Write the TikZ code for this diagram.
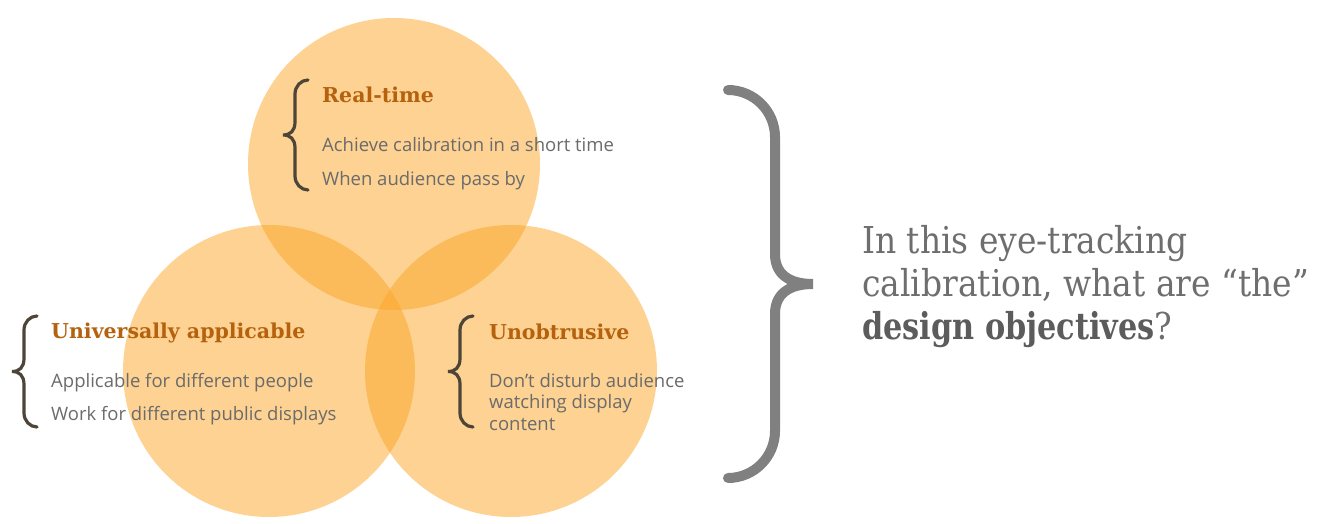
\documentclass[tikz,border=0pt]{standalone}
\usepackage{fontspec}
\setmainfont{Open Sans}
\newfontfamily\slab{DejaVu Serif}
\newfontfamily\slabq[FakeStretch=0.89]{DejaVu Serif}
\newfontfamily\slabqb[FakeStretch=0.82]{DejaVu Serif}
\definecolor{petal}{HTML}{FBA525}
\definecolor{headc}{HTML}{B5620F}
\definecolor{bodyc}{HTML}{6B6B6B}
\definecolor{curlc}{HTML}{4C4538}
\definecolor{bigcurl}{HTML}{808080}
\definecolor{askc}{HTML}{6E6E6E}
\definecolor{askbold}{HTML}{5C5C5C}

% curly brace: #1 style, #2 x of the ends, #3 x of the stem, #4 x of the tip,
% #5 top y, #6 bottom y, #7 length of the end curls, #8 length of the tip curls
\newcommand{\drawcurl}[8]{%
  \pgfmathsetmacro\curlmid{(#5+#6)/2}%
  \draw[#1] (#2,#5) .. controls ({#2+0.55*(#3-#2)},#5) and (#3,{#5+0.45*#7}) .. (#3,{#5+#7})
    -- (#3,{\curlmid-#8}) .. controls (#3,{\curlmid-0.3*#8}) and ({#3+0.4*(#4-#3)},\curlmid) .. (#4,\curlmid)
    .. controls ({#3+0.4*(#4-#3)},\curlmid) and (#3,{\curlmid+0.3*#8}) .. (#3,{\curlmid+#8})
    -- (#3,{#6-#7}) .. controls (#3,{#6-0.45*#7}) and ({#2+0.55*(#3-#2)},#6) .. (#2,#6);}

\tikzset{
  venn/.style={circle, minimum size=292pt, inner sep=0pt, fill=petal, fill opacity=0.5},
  head/.style={anchor=base west, inner sep=0pt, text=headc, font=\slab\bfseries\fontsize{20.5}{24}\selectfont},
  body/.style={anchor=base west, inner sep=0pt, text=bodyc, align=left, font=\fontsize{18.5}{21.5}\selectfont},
  smallcurl/.style={draw=curlc, line width=3.2pt, line cap=round},
  bigcurlstyle/.style={draw=bigcurl, line width=10pt, line cap=round},
  ask/.style={anchor=base west, inner sep=0pt, text=askc, align=left, font=\slabq\fontsize{37}{43}\selectfont}
}

\begin{document}
\begin{tikzpicture}[x=1pt, y=-1pt]
  \useasboundingbox (0,0) rectangle (1317,524);

  % the three overlapping circles
  \node[venn] (ctop)   at (394,164) {};
  \node[venn] (cleft)  at (269,371) {};
  \node[venn] (cright) at (511,371) {};

  % real-time
  \drawcurl{smallcurl}{308}{295}{283}{80}{190}{14}{13}
  \node[head] (rt) at (322,103) {Real-time};
  \node[body] (rt1) at (322,152) {Achieve calibration in a short time};
  \node[body] (rt2) at (322,185) {When audience pass by};

  % universally applicable
  \drawcurl{smallcurl}{37}{24}{12}{316}{427}{14}{13}
  \node[head] (ua) at (51,338) {Universally applicable};
  \node[body] (ua1) at (51,387) {Applicable for different people};
  \node[body] (ua2) at (51,420) {Work for different public displays};

  % unobtrusive (the last line of a wrapped node carries its base anchor)
  \drawcurl{smallcurl}{473}{460}{448}{316}{427}{14}{13}
  \node[head] (un) at (489,339) {Unobtrusive};
  \node[body] (un1) at (489,430) {Don’t disturb audience\\watching display\\content};

  % large brace and question
  \drawcurl{bigcurlstyle}{728}{775}{813}{90}{478}{47}{30}
  \node[ask] (q) at (862,339) {In this eye-tracking\\calibration, what are “the”\\{\slabqb\color{askbold}\bfseries design objectives}?};
\end{tikzpicture}
\end{document}
